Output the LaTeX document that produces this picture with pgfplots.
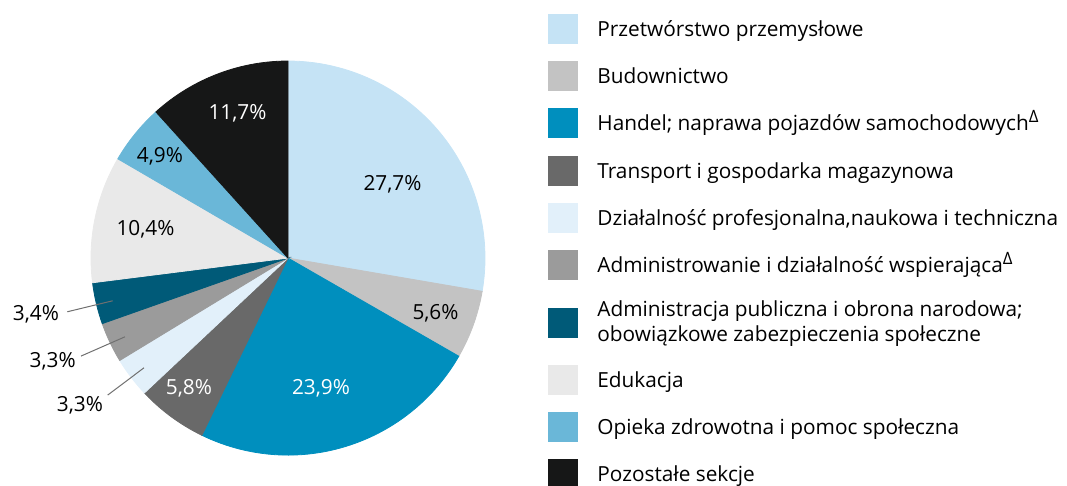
\documentclass[border=0pt]{standalone}
\usepackage{pgfplots}
\usepackage{pgfplotstable}
\pgfplotsset{compat=1.18}
\usepackage{fontspec}
\setmainfont{Open Sans}

% sector colours, clockwise from the top
\definecolor{sec0}{HTML}{C5E3F5}
\definecolor{sec1}{HTML}{C3C3C3}
\definecolor{sec2}{HTML}{008FBE}
\definecolor{sec3}{HTML}{696969}
\definecolor{sec4}{HTML}{E2F0FA}
\definecolor{sec5}{HTML}{9B9B9B}
\definecolor{sec6}{HTML}{005A78}
\definecolor{sec7}{HTML}{E9E9E9}
\definecolor{sec8}{HTML}{6AB7D8}
\definecolor{sec9}{HTML}{161717}
\definecolor{leader}{HTML}{707070}

\pgfplotstableread{
share
27.7
5.6
23.9
5.8
3.3
3.3
3.4
10.4
4.9
11.7
}\sectors

\newcommand\delt{\raisebox{0.75ex}{\fontsize{8.5}{8.5}\selectfont Δ}}

\begin{document}
\fontsize{10.4}{12.5}\selectfont
\begin{tikzpicture}
\begin{axis}[
  width=533.5pt, height=242.5pt, scale only axis,
  xmin=0, xmax=1067, ymin=0, ymax=485,
  y dir=reverse, hide axis, clip=false,
]
\def\cum{0}
\pgfplotsforeachungrouped \i in {0,...,9}{%
  \pgfplotstablegetelem{\i}{share}\of\sectors
  \pgfmathsetmacro\hi{90-3.6*\cum}%
  \pgfmathsetmacro\cum{\cum+\pgfplotsretval}%
  \pgfmathsetmacro\lo{90-3.6*\cum}%
  \edef\cmd{\noexpand\addplot[fill=sec\i, draw=sec\i, line width=0.4pt,
    domain=\lo:\hi, samples=90]
    ({288+197*cos(x)},{258-197*sin(x)}) -- (axis cs:288,258) -- cycle;}%
  \cmd
}

% value labels
\node at (axis cs:392.5,184.5) {27,7\%};
\node at (axis cs:435.5,313) {5,6\%};
\node[text=white] at (axis cs:321,388) {23,9\%};
\node[text=white] at (axis cs:189,388) {5,8\%};
\node at (axis cs:145.5,229) {10,4\%};
\node at (axis cs:160,156) {4,9\%};
\node[text=white] at (axis cs:237.5,113) {11,7\%};
\node at (axis cs:36,314.5) {3,4\%};
\node at (axis cs:52.7,361) {3,3\%};
\node at (axis cs:80,405.5) {3,3\%};
\draw[leader, line width=0.5pt] (axis cs:67.3,311.7) -- (axis cs:112.7,300.7);
\draw[leader, line width=0.5pt] (axis cs:81,356) -- (axis cs:125,336.7);
\draw[leader, line width=0.5pt] (axis cs:107.7,395) -- (axis cs:144,367.7);

% legend
\fill[sec0] (axis cs:548,14) rectangle (axis cs:578,44);
\fill[sec1] (axis cs:548,61) rectangle (axis cs:578,91);
\fill[sec2] (axis cs:548,108) rectangle (axis cs:578,138);
\fill[sec3] (axis cs:548,156) rectangle (axis cs:578,186);
\fill[sec4] (axis cs:548,202.5) rectangle (axis cs:578,232.5);
\fill[sec5] (axis cs:548,250) rectangle (axis cs:578,280);
\fill[sec6] (axis cs:548,308) rectangle (axis cs:578,338);
\fill[sec7] (axis cs:548,365) rectangle (axis cs:578,395);
\fill[sec8] (axis cs:548,412) rectangle (axis cs:578,442);
\fill[sec9] (axis cs:548,459) rectangle (axis cs:578,489);
\begin{scope}[every node/.style={anchor=base west, inner sep=0pt}]
\node at (axis cs:597,36.5) {Przetwórstwo przemysłowe};
\node at (axis cs:597,83.5) {Budownictwo};
\node at (axis cs:597,130.5) {Handel; naprawa pojazdów samochodowych\delt};
\node at (axis cs:597,178.5) {Transport i gospodarka magazynowa};
\node at (axis cs:597,225) {Działalność profesjonalna,naukowa i techniczna};
\node at (axis cs:597,272.5) {Administrowanie i działalność wspierająca\delt};
\node at (axis cs:597,316.7) {Administracja publiczna i obrona narodowa;};
\node at (axis cs:597,341.5) {obowiązkowe zabezpieczenia społeczne};
\node at (axis cs:597,387.5) {Edukacja};
\node at (axis cs:597,434.5) {Opieka zdrowotna i pomoc społeczna};
\node at (axis cs:597,481.5) {Pozostałe sekcje};
\end{scope}
\end{axis}
\pgfresetboundingbox
\path[use as bounding box] (current axis.south west) rectangle (current axis.north east);
\end{tikzpicture}
\end{document}
